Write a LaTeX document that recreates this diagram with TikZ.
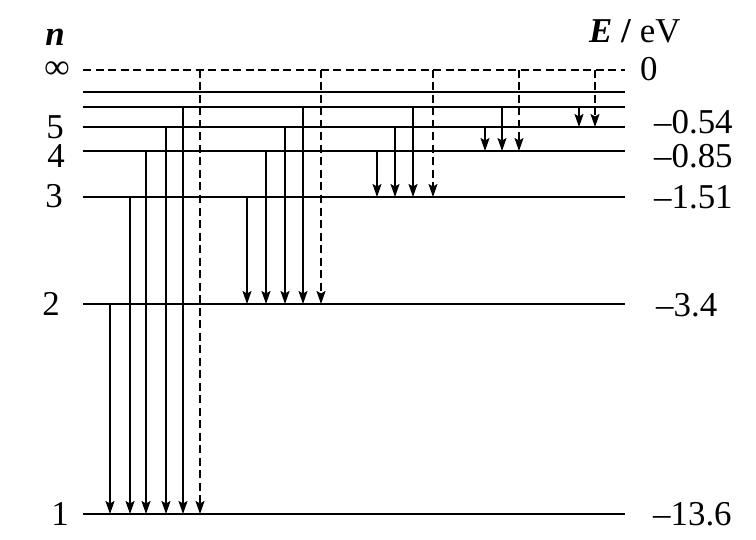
\documentclass[tikz,border=0pt]{standalone}
\usepackage{fontspec}
\setmainfont{Liberation Serif}
\usetikzlibrary{arrows.meta}
\begin{document}
\begin{tikzpicture}[x=1bp,y=-1bp,
  level/.style={line width=1.6bp},
  dlevel/.style={line width=1.5bp,dash pattern=on 8bp off 4.5bp},
  trans/.style={line width=1.4bp,-{Stealth[length=13bp,width=9bp,inset=2.5bp]}},
  dtrans/.style={trans,dash pattern=on 8bp off 4.5bp},
  lab/.style={inner sep=0pt,font=\fontsize{35}{40}\selectfont}]
\useasboundingbox (0,0) rectangle (756,540);
% level coordinates
\foreach \n/\y in {inf/70,7/92,6/107,5/127,4/151,3/197,2/304,1/514}{
  \coordinate (L\n) at (83,\y);
  \coordinate (R\n) at (625,\y);
}
\draw[dlevel] (Linf) -- (Rinf);
\foreach \n in {7,6,5,4,3,2,1}{\draw[level] (L\n) -- (R\n);}
% transitions: x / from / to
\foreach \x/\f/\t in {110/2/1,130/3/1,146/4/1,166/5/1,183/6/1,
                      247/3/2,266/4/2,285/5/2,303/6/2,
                      377/4/3,395/5/3,413/6/3,
                      485/5/4,502/6/4,
                      579/6/5}{
  \coordinate (s\x) at (\x,0 |- L\f);
  \coordinate (e\x) at (\x,0 |- L\t);
  \draw[trans] (s\x) -- (e\x);
}
\foreach \x/\t in {200/1,321/2,433/3,519/4,595/5}{
  \coordinate (s\x) at (\x,0 |- Linf);
  \coordinate (e\x) at (\x,0 |- L\t);
  \draw[dtrans] (s\x) -- (e\x);
}
% left labels
\node[lab,anchor=base] (ln) at (55,46) {\textbf{\textit{n}}};
\node[lab,anchor=center] (linf) at (57,70) {\textbf{∞}};
\node[lab,anchor=base] (l5) at (55,139) {5};
\node[lab,anchor=base] (l4) at (56,168) {4};
\node[lab,anchor=base] (l3) at (54,208) {3};
\node[lab,anchor=base] (l2) at (51,315) {2};
\node[lab,anchor=base] (l1) at (60,525) {1};
% right labels
\node[lab,anchor=base west] (rE) at (589,43) {\textbf{\textit{E}} \textbf{/} eV};
\node[lab,anchor=base west] (r0) at (640,81) {0};
\node[lab,anchor=base west] (r5) at (654,134) {–0.54};
\node[lab,anchor=base west] (r4) at (654,168) {–0.85};
\node[lab,anchor=base west] (r3) at (654,209) {–1.51};
\node[lab,anchor=base west] (r2) at (656,316) {–3.4};
\node[lab,anchor=base west] (r1) at (653,525) {–13.6};
\end{tikzpicture}
\end{document}
